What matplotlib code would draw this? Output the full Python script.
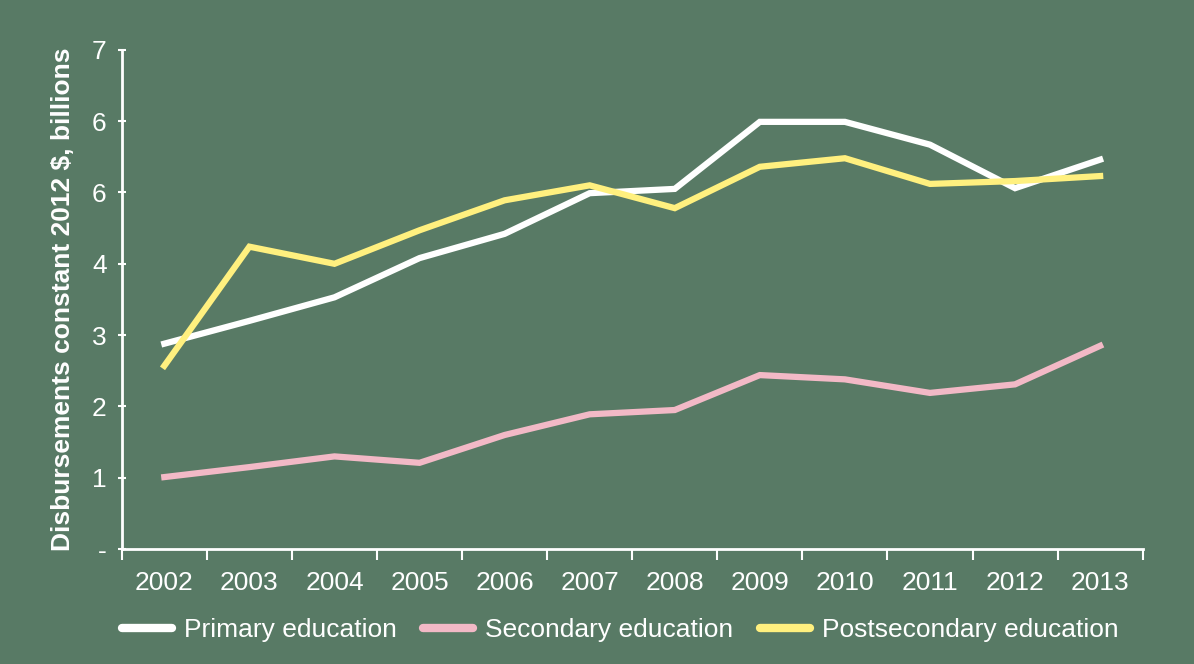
import numpy as np
import matplotlib.pyplot as plt

plt.rcParams['font.family'] = ['Liberation Sans', 'DejaVu Sans']

# data
years = ['2002', '2003', '2004', '2005', '2006', '2007', '2008', '2009', '2010', '2011', '2012', '2013']
primary = [2.88, 3.20, 3.53, 4.08, 4.42, 4.99, 5.05, 5.99, 5.99, 5.67, 5.06, 5.46]
secondary = [1.01, 1.15, 1.30, 1.21, 1.60, 1.89, 1.95, 2.44, 2.38, 2.19, 2.31, 2.85]
postsecondary = [2.57, 4.24, 4.00, 4.47, 4.89, 5.10, 4.78, 5.36, 5.48, 5.12, 5.16, 5.23]
ytick_vals = [0, 1, 2, 3, 4, 5, 6, 7]
ytick_labels = ['-', '1', '2', '3', '4', '6', '6', '7']  # as printed on the original

bg = '#587A65'
fig = plt.figure(figsize=(11.94, 6.64), dpi=100, facecolor=bg)
ax = fig.add_axes([0.102, 0.173, 0.855, 0.752], facecolor=bg)

x = np.arange(len(years))
ax.plot(x, primary, color='white', lw=4.5, label='Primary education', solid_joinstyle='miter')
ax.plot(x, secondary, color='#F2B9C6', lw=4.5, label='Secondary education', solid_joinstyle='miter')
ax.plot(x, postsecondary, color='#FFF07F', lw=4.5, label='Postsecondary education', solid_joinstyle='miter')

ax.set_xlim(-0.5, len(years) - 0.5)
ax.set_ylim(0, 7)
ax.set_xticks(np.arange(-0.5, len(years)), labels=[''] * (len(years) + 1))
ax.set_xticks(x, labels=years, minor=True)
ax.tick_params(axis='x', which='major', length=8, width=1.5, color='white', direction='out')
ax.tick_params(axis='x', which='minor', length=0, pad=16, labelsize=19, labelcolor='white')
ax.set_yticks(ytick_vals, labels=ytick_labels)
ax.tick_params(axis='y', length=6, width=1.5, color='white', direction='inout', labelsize=19,
               labelcolor='white', pad=8)

for s in ['top', 'right']:
    ax.spines[s].set_visible(False)
for s in ['left', 'bottom']:
    ax.spines[s].set_color('white')
    ax.spines[s].set_linewidth(2)

ax.set_ylabel('Disbursements constant 2012 $, billions', color='white', fontsize=19,
              fontweight='bold', labelpad=12)

leg = ax.legend(loc='upper center', bbox_to_anchor=(0.488, -0.09), ncol=3, frameon=False,
                fontsize=19, handlelength=1.9, columnspacing=1.0, handletextpad=0.45)
for t in leg.get_texts():
    t.set_color('white')
for h in leg.get_lines():
    h.set_linewidth(6)
    h.set_solid_capstyle('round')

fig.savefig('out.png', dpi=100, facecolor=bg)
